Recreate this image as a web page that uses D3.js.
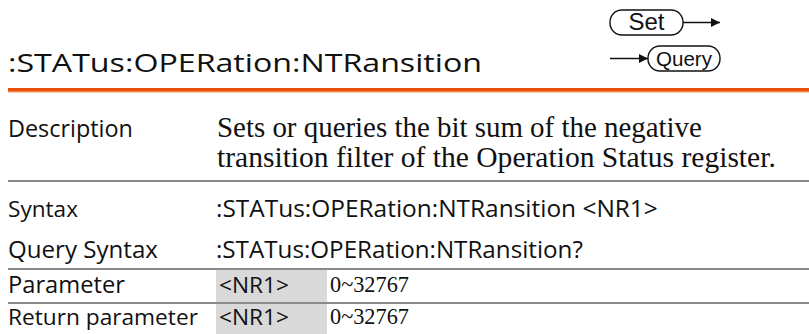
<!DOCTYPE html>
<html><head><meta charset="utf-8">
<script src="https://cdn.jsdelivr.net/npm/d3@7"></script>
<style>html,body{margin:0;padding:0;background:#fff;}svg{display:block;}</style>
</head><body>
<svg id="c" width="809" height="334"></svg>
<script>
const title = ":STATus:OPERation:NTRansition";
const modes = ["Set", "Query"];
const rowLabels = ["Description", "Syntax", "Query Syntax", "Parameter", "Return parameter"];
const descLines = ["Sets or queries the bit sum of the negative", "transition filter of the Operation Status register."];
const syntaxText = ":STATus:OPERation:NTRansition <NR1>";
const querySyntaxText = ":STATus:OPERation:NTRansition?";
const paramNames = ["<NR1>", "<NR1>"];
const paramRanges = ["0~32767", "0~32767"];

const svg = d3.select("#c");
const sans = "'Open Sans', 'Noto Sans', sans-serif";
const serif = "'Liberation Serif', 'DejaVu Serif', serif";

// add text and size it so that it spans the given width
function fitText(x, yb, str, family, width, opts = {}) {
  const t = svg.append("text").attr("x", x).attr("y", yb).attr("font-family", family)
    .attr("font-size", 20).attr("fill", opts.fill || "#111").text(str);
  if (opts.anchor) t.attr("text-anchor", opts.anchor);
  const w = t.node().getComputedTextLength();
  let fs = 20 * width / w;
  if (opts.maxSize) fs = Math.min(fs, opts.maxSize);
  t.attr("font-size", fs);
  if (opts.maxSize) t.attr("textLength", width).attr("lengthAdjust", "spacingAndGlyphs");
  return t;
}

// title
fitText(8, 72, title, sans, 474, {maxSize: 25.5});

// Set / Query badges
const defs = svg.append("defs");
defs.append("marker").attr("id", "ah").attr("viewBox", "0 0 10 10").attr("refX", 10).attr("refY", 5)
  .attr("markerWidth", 9).attr("markerHeight", 10).attr("markerUnits", "userSpaceOnUse").attr("orient", "auto")
  .append("path").attr("d", "M0,0L10,5L0,10Z").attr("fill", "#111");

const badge = [{x: 610, y: 10, w: 73, h: 25, tw: 36}, {x: 648, y: 46, w: 72, h: 25, tw: 56}];
modes.forEach((m, i) => {
  const b = badge[i];
  svg.append("rect").attr("x", b.x).attr("y", b.y).attr("width", b.w).attr("height", b.h)
    .attr("rx", 12).attr("ry", 12).attr("fill", "#fff").attr("stroke", "#111").attr("stroke-width", 1.4);
  fitText(b.x + b.w / 2, b.y + b.h / 2 + 7, m, "'Liberation Sans', Arial, sans-serif", b.tw, {anchor: "middle"});
});
svg.append("line").attr("x1", 683).attr("x2", 720).attr("y1", 22.5).attr("y2", 22.5)
  .attr("stroke", "#111").attr("stroke-width", 1.6).attr("marker-end", "url(#ah)");
svg.append("line").attr("x1", 610).attr("x2", 648).attr("y1", 58.5).attr("y2", 58.5)
  .attr("stroke", "#111").attr("stroke-width", 1.6).attr("marker-end", "url(#ah)");

// orange rule
svg.append("rect").attr("x", 8).attr("y", 88).attr("width", 801).attr("height", 3).attr("fill", "#e8500a");
svg.append("rect").attr("x", 8).attr("y", 91).attr("width", 801).attr("height", 1).attr("fill", "#f08a50");
svg.append("rect").attr("x", 8).attr("y", 92).attr("width", 801).attr("height", 1).attr("fill", "#f9c8a8");

// rows
const labelY = d3.scaleOrdinal().domain(rowLabels).range([137, 217, 258, 293, 325]);
const labelW = [125, 70, 150, 117, 190];
const cellTop = [270, 304];
const cellH = [33, 30];

paramNames.forEach((p, i) => {
  svg.append("rect").attr("x", 216).attr("y", cellTop[i]).attr("width", 111).attr("height", cellH[i]).attr("fill", "#d9d9d9");
});

[181, 269, 303].forEach(v => {
  svg.append("rect").attr("x", 8).attr("y", v - 1).attr("width", 801).attr("height", 2).attr("fill", "#8a8a8a");
});

rowLabels.forEach((l, i) => fitText(8, labelY(l), l, sans, labelW[i]));

fitText(217, 137, descLines[0], serif, 485);
fitText(217, 167, descLines[1], serif, 559);
fitText(216, labelY("Syntax"), syntaxText, sans, 442);
fitText(216, labelY("Query Syntax"), querySyntaxText, sans, 367);
paramNames.forEach((p, i) => {
  const yb = labelY(rowLabels[3 + i]);
  fitText(219, yb, p, sans, 70);
  fitText(330, yb - 1, paramRanges[i], serif, 79);
});
</script>
</body></html>
